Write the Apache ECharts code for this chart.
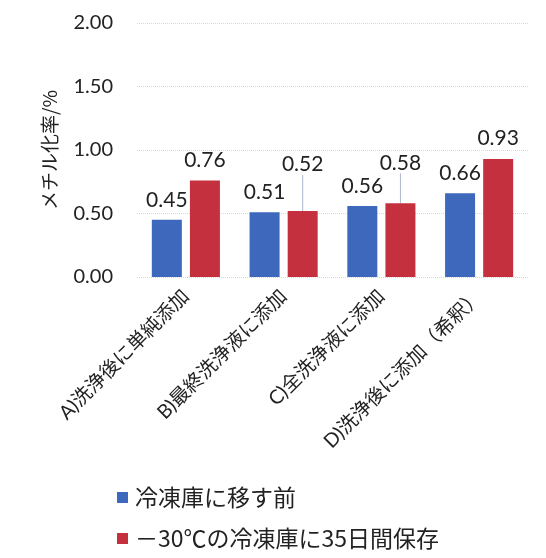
<!DOCTYPE html>
<html>
<head>
<meta charset="utf-8">
<script src="https://cdn.jsdelivr.net/npm/echarts@6/dist/echarts.min.js"></script>
<style>
  html, body { margin: 0; padding: 0; background: #fff; }
  #chart { width: 546px; height: 558px; }
</style>
</head>
<body>
<div id="chart"></div>
<script>
// Methylation rate before freezing vs. after 35 days at -30°C
const categories = [
  'A)洗浄後に単純添加',
  'B)最終洗浄液に添加',
  'C)全洗浄液に添加',
  'D)洗浄後に添加（希釈）'
];
const seriesNames = ['冷凍庫に移す前', '－30℃の冷凍庫に35日間保存'];
const beforeFreezing = [0.45, 0.51, 0.56, 0.66];
const afterStorage = [0.76, 0.52, 0.58, 0.93];
const yTicks = [0, 0.5, 1.0, 1.5, 2.0];

const FONT = "Lato, 'Noto Sans CJK JP', sans-serif";
const CJK = "'Noto Sans CJK JP', sans-serif";

// Extra lift for labels that would crowd their neighbours (drawn with a guide line)
const liftedLabels = { 1: -26, 2: -20 };

const chart = echarts.init(document.getElementById('chart'));
chart.setOption({
  animation: false,
  grid: { left: 137, right: 18, top: 23, bottom: 281 },
  xAxis: {
    type: 'category',
    data: categories,
    axisLine: { show: false },
    axisTick: { show: false },
    axisLabel: {
      rotate: 45,
      interval: 0,
      margin: 16,
      fontSize: 19.5,
      color: '#222',
      fontFamily: FONT
    }
  },
  yAxis: {
    type: 'value',
    min: yTicks[0],
    max: yTicks[yTicks.length - 1],
    interval: 0.5,
    name: 'メチル化率/%',
    nameLocation: 'middle',
    nameGap: 78,
    nameRotate: 90,
    nameTextStyle: { fontSize: 19, color: '#222', fontFamily: CJK },
    axisLine: { show: false },
    axisTick: { show: false },
    axisLabel: {
      margin: 24,
      fontSize: 20,
      color: '#222',
      fontFamily: FONT,
      formatter: v => v.toFixed(2)
    },
    splitLine: { lineStyle: { color: '#d8d8d8', type: 'dotted', width: 1 } }
  },
  legend: {
    orient: 'vertical',
    left: 112,
    top: 481,
    itemWidth: 11,
    itemHeight: 11,
    itemGap: 18,
    icon: 'rect',
    textStyle: { fontSize: 23, color: '#222', fontFamily: CJK, padding: [0, 0, 0, 2] },
    data: seriesNames
  },
  series: [
    {
      name: seriesNames[0],
      type: 'bar',
      data: beforeFreezing,
      barWidth: 30,
      barGap: '27%',
      itemStyle: { color: '#3d68bb' },
      label: {
        show: true,
        position: 'top',
        distance: 9,
        fontSize: 21,
        color: '#222',
        fontFamily: FONT,
        formatter: p => p.value.toFixed(2)
      }
    },
    {
      name: seriesNames[1],
      type: 'bar',
      data: afterStorage.map((v, i) => ({
        value: v,
        labelLine: { show: liftedLabels[i] !== undefined }
      })),
      barWidth: 30,
      barGap: '27%',
      itemStyle: { color: '#c5303f' },
      label: {
        show: true,
        position: 'top',
        distance: 10,
        fontSize: 21,
        color: '#222',
        fontFamily: FONT,
        formatter: p => p.value.toFixed(2)
      },
      labelLayout: p => {
        const dy = liftedLabels[p.dataIndex];
        return dy ? { dy: dy } : {};
      },
      labelLine: {
        show: false,
        lineStyle: { color: '#a9b8cc', width: 1 }
      }
    }
  ]
});
</script>
</body>
</html>
